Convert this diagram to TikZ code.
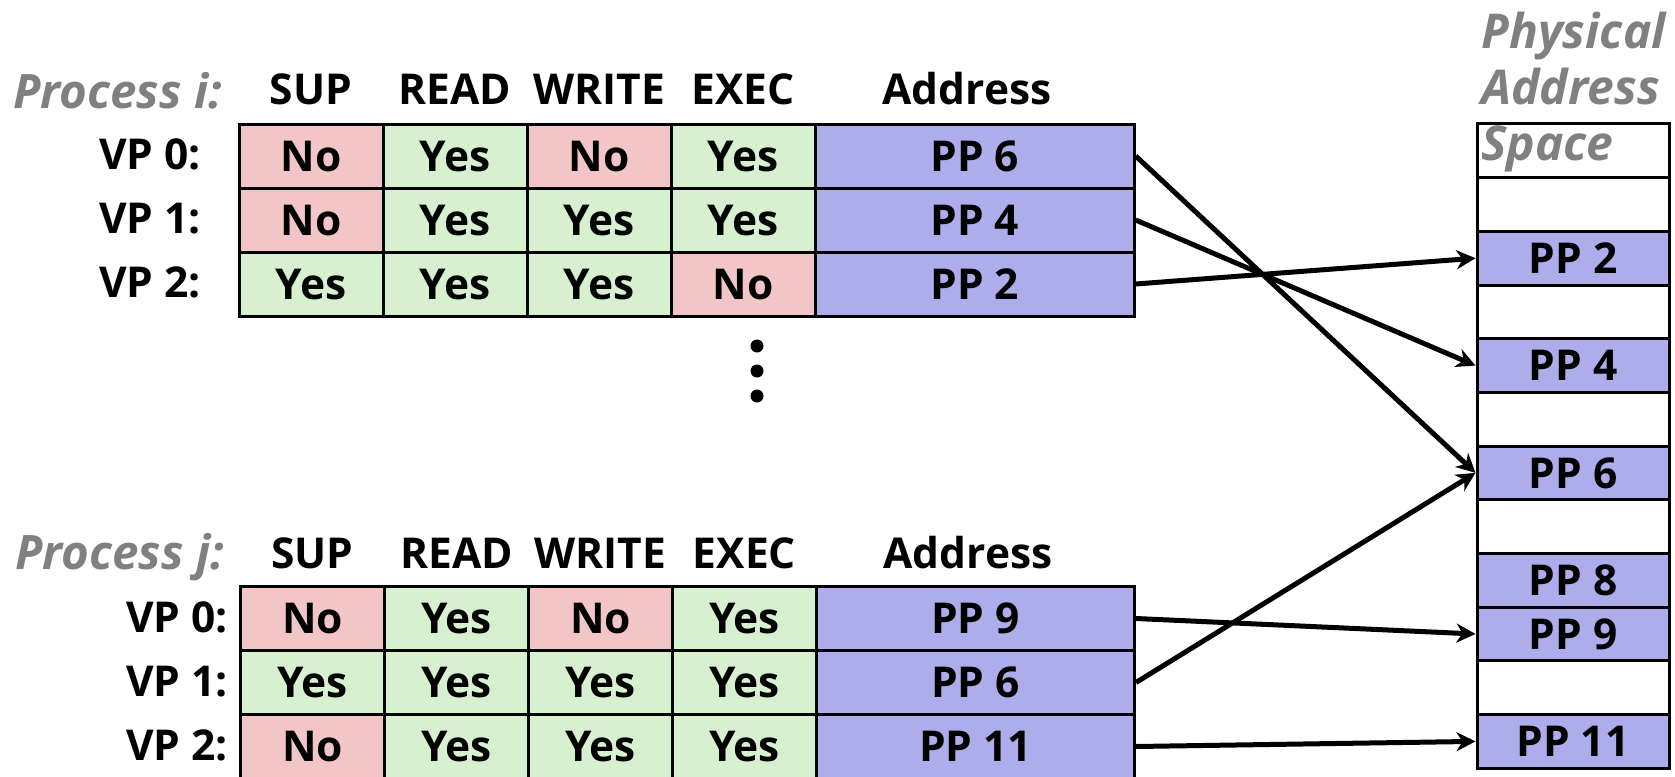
\documentclass[tikz,border=0pt]{standalone}
\usepackage{fontspec}
\setmainfont{Open Sans}
\usetikzlibrary{arrows.meta}
\definecolor{nored}{RGB}{242,198,198}
\definecolor{yesgreen}{RGB}{214,240,208}
\definecolor{ppblue}{RGB}{173,173,235}
\definecolor{labgray}{RGB}{128,128,128}
\tikzset{every node/.style={font=\fontsize{42.5}{50}\selectfont\bfseries}}
\tikzset{cell/.style={rectangle,draw,line width=3pt,minimum width=144pt,minimum height=64pt,inner sep=0pt,text height=30.3pt,text depth=0pt}}
\tikzset{yes/.style={cell,fill=yesgreen}}
\tikzset{no/.style={cell,fill=nored}}
\tikzset{pp/.style={cell,fill=ppblue,minimum width=319pt}}
\tikzset{slot/.style={cell,fill=white,minimum width=192pt,minimum height=53.7pt}}
\tikzset{hd/.style={anchor=base,inner sep=0pt}}
\tikzset{vp/.style={anchor=base east,inner sep=0pt}}
\tikzset{proc/.style={anchor=base west,inner sep=0pt,text=labgray,font=\fontsize{47.5}{56}\selectfont\bfseries\itshape}}
\tikzset{a/.style={line width=5pt,-{Stealth[length=19pt,width=19pt,inset=6pt]}}}

\begin{document}
\begin{tikzpicture}[x=1pt,y=-1pt]
    \useasboundingbox (0,0) rectangle (1675,776);
    % process i
    \node[proc] (PI) at (13,108) {Process i:};
    \node[hd] (HI1) at (311,104.5) {SUP};
    \node[hd] (HI2) at (455,104.5) {READ};
    \node[hd] (HI3) at (599,104.5) {WRITE};
    \node[hd] (HI4) at (743,104.5) {EXEC};
    \node[hd] (HI5) at (967,104.5) {Address};
    \node[vp] (VI0) at (201,169) {VP 0:};
    \node[vp] (VI1) at (201,233) {VP 1:};
    \node[vp] (VI2) at (201,297) {VP 2:};
    \node[no] (I01) at (311,156) {No};
    \node[yes] (I02) at (455,156) {Yes};
    \node[no] (I03) at (599,156) {No};
    \node[yes] (I04) at (743,156) {Yes};
    \node[pp] (IA0) at (974.7,156) {PP 6};
    \node[no] (I11) at (311,220) {No};
    \node[yes] (I12) at (455,220) {Yes};
    \node[yes] (I13) at (599,220) {Yes};
    \node[yes] (I14) at (743,220) {Yes};
    \node[pp] (IA1) at (974.7,220) {PP 4};
    \node[yes] (I21) at (311,284) {Yes};
    \node[yes] (I22) at (455,284) {Yes};
    \node[yes] (I23) at (599,284) {Yes};
    \node[no] (I24) at (743,284) {No};
    \node[pp] (IA2) at (974.7,284) {PP 2};
    % the dots
    \fill (757,346) circle (6.5);
    \fill (757,371) circle (6.5);
    \fill (757,396) circle (6.5);
    % process j
    \node[proc] (PJ) at (15,569) {Process j:};
    \node[hd] (HJ1) at (312.5,568) {SUP};
    \node[hd] (HJ2) at (456.5,568) {READ};
    \node[hd] (HJ3) at (600.5,568) {WRITE};
    \node[hd] (HJ4) at (744.5,568) {EXEC};
    \node[hd] (HJ5) at (968,568) {Address};
    \node[vp] (VJ0) at (228,632) {VP 0:};
    \node[vp] (VJ1) at (228,696) {VP 1:};
    \node[vp] (VJ2) at (228,760) {VP 2:};
    \node[no] (J01) at (312.5,618.5) {No};
    \node[yes] (J02) at (456.5,618.5) {Yes};
    \node[no] (J03) at (600.5,618.5) {No};
    \node[yes] (J04) at (744.5,618.5) {Yes};
    \node[pp,minimum width=318pt] (JA0) at (975.5,618.5) {PP 9};
    \node[yes] (J11) at (312.5,682.5) {Yes};
    \node[yes] (J12) at (456.5,682.5) {Yes};
    \node[yes] (J13) at (600.5,682.5) {Yes};
    \node[yes] (J14) at (744.5,682.5) {Yes};
    \node[pp,minimum width=318pt] (JA1) at (975.5,682.5) {PP 6};
    \node[no] (J21) at (312.5,746.5) {No};
    \node[yes] (J22) at (456.5,746.5) {Yes};
    \node[yes] (J23) at (600.5,746.5) {Yes};
    \node[yes] (J24) at (744.5,746.5) {Yes};
    \node[pp,minimum width=318pt] (JA2) at (975.5,746.5) {PP 11};
    % physical memory
    \node[slot] (M0) at (1573,150.8) {};
    \node[slot] (M1) at (1573,204.5) {};
    \node[slot,fill=ppblue] (M2) at (1573,258.2) {PP 2};
    \node[slot] (M3) at (1573,311.9) {};
    \node[slot,fill=ppblue] (M4) at (1573,365.6) {PP 4};
    \node[slot] (M5) at (1573,419.3) {};
    \node[slot,fill=ppblue] (M6) at (1573,472.9) {PP 6};
    \node[slot] (M7) at (1573,526.6) {};
    \node[slot,fill=ppblue] (M8) at (1573,580.3) {PP 8};
    \node[slot,fill=ppblue] (M9) at (1573,634) {PP 9};
    \node[slot] (M10) at (1573,687.7) {};
    \node[slot,fill=ppblue] (M11) at (1573,741.4) {PP 11};
    \node[proc,align=left,anchor=north west,font=\fontsize{48}{56}\selectfont\bfseries\itshape] (PAS) at (1481,12) {Physical\\Address\\Space};
    % mappings
    \draw[a] (IA0.east) -- (M6.west);
    \draw[a] (IA1.east) -- (M4.west);
    \draw[a] (IA2.east) -- (M2.west);
    \draw[a] (JA0.east) -- (M9.west);
    \draw[a] (JA1.east) -- (M6.west);
    \draw[a] (JA2.east) -- (M11.west);
\end{tikzpicture}
\end{document}
